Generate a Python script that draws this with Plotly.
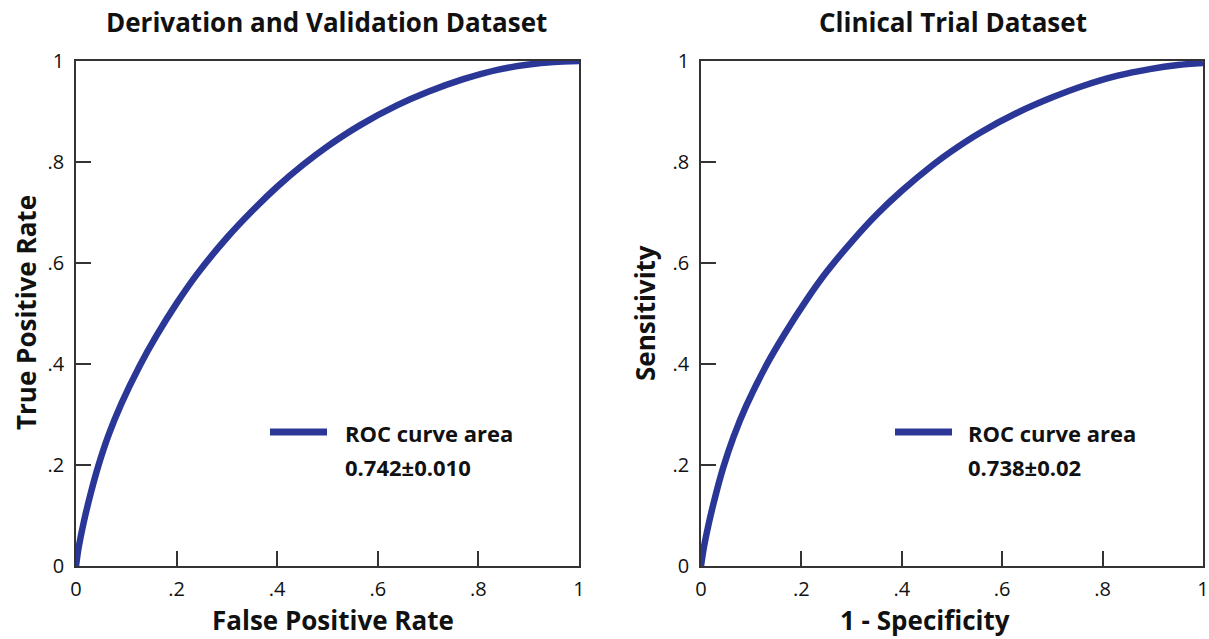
import plotly.graph_objects as go

# ---- data ----
fpr_deriv = [0.0, 0.005, 0.015, 0.028, 0.044, 0.065, 0.09, 0.127, 0.16, 0.2, 0.24, 0.3, 0.35, 0.4,
             0.452, 0.5, 0.565, 0.638, 0.7, 0.77, 0.84, 0.9, 0.95, 1.0]
tpr_deriv = [0.0, 0.035, 0.085, 0.139, 0.197, 0.26, 0.321, 0.397, 0.456, 0.52, 0.577, 0.65, 0.703, 0.751,
             0.795, 0.831, 0.873, 0.912, 0.939, 0.964, 0.983, 0.993, 0.998, 1.0]

fpr_trial = [0.0, 0.005, 0.015, 0.028, 0.044, 0.065, 0.09, 0.131, 0.165, 0.211, 0.25, 0.3, 0.35, 0.4,
             0.463, 0.5, 0.556, 0.629, 0.7, 0.762, 0.83, 0.894, 0.95, 1.0]
tpr_trial = [0.0, 0.033, 0.082, 0.136, 0.194, 0.256, 0.317, 0.399, 0.457, 0.528, 0.582, 0.642, 0.696, 0.743,
             0.795, 0.822, 0.858, 0.897, 0.928, 0.951, 0.971, 0.984, 0.992, 0.996]

panel_titles = ["Derivation and Validation Dataset", "Clinical Trial Dataset"]
x_titles = ["False Positive Rate", "1 - Specificity"]
y_titles = ["True Positive Rate", "Sensitivity"]
legend_label = "ROC curve area"
auc_labels = ["0.742\u00b10.010", "0.738\u00b10.02"]
tick_vals = [0, 0.2, 0.4, 0.6, 0.8, 1]
tick_text = ["0", ".2", ".4", ".6", ".8", "1"]

W, H = 1209, 639
FONT = "Open Sans"
CURVE = "#2B3796"
AXC = "#333333"

def px_x(p):
    return p / W

def px_y(p):
    return 1 - p / H

dom_y = [px_y(566), px_y(61)]
dom_x1 = [px_x(76), px_x(579)]
dom_x2 = [px_x(701), px_x(1203)]

fig = go.Figure()
fig.add_trace(go.Scatter(x=fpr_deriv, y=tpr_deriv, mode="lines",
                         line=dict(color=CURVE, width=6.5, shape="spline", smoothing=0.8),
                         xaxis="x", yaxis="y", showlegend=False, hoverinfo="skip"))
fig.add_trace(go.Scatter(x=fpr_trial, y=tpr_trial, mode="lines",
                         line=dict(color=CURVE, width=6.5, shape="spline", smoothing=0.8),
                         xaxis="x2", yaxis="y2", showlegend=False, hoverinfo="skip"))

axis_common = dict(range=[0, 1], tickvals=tick_vals, ticktext=tick_text, ticks="inside", ticklen=15,
                   tickwidth=1.5, tickcolor=AXC, showline=True, linecolor=AXC, linewidth=1.5, mirror=True,
                   showgrid=False, zeroline=False, automargin=False, ticklabeloverflow="allow",
                   tickfont=dict(family=FONT, size=20, color="#111"), fixedrange=True)

fig.update_layout(
    template="none",
    width=W, height=H, autosize=False,
    margin=dict(l=0, r=0, t=0, b=0, pad=0),
    paper_bgcolor="white", plot_bgcolor="white",
    showlegend=False,
    xaxis=dict(domain=dom_x1, anchor="y", ticklabelstandoff=4, **axis_common),
    yaxis=dict(domain=dom_y, anchor="x", ticklabelstandoff=6, **axis_common),
    xaxis2=dict(domain=dom_x2, anchor="y2", ticklabelstandoff=4, **axis_common),
    yaxis2=dict(domain=dom_y, anchor="x2", ticklabelstandoff=6, **axis_common),
)

ann = []
title_font = dict(family=FONT, size=26, color="#111")
axt_font = dict(family=FONT, size=26, color="#111")
leg_font = dict(family=FONT, size=22, color="#111")

for t, cx in zip(panel_titles, [326, 953]):
    ann.append(dict(text="<b>%s</b>" % t, x=px_x(cx), y=px_y(22), xref="paper", yref="paper",
                    xanchor="center", yanchor="middle", showarrow=False, font=title_font))
for t, cx in zip(x_titles, [333, 925]):
    ann.append(dict(text="<b>%s</b>" % t, x=px_x(cx), y=0, xref="paper", yref="paper",
                    xanchor="center", yanchor="bottom", showarrow=False, borderpad=0, font=axt_font))
for t, cx in zip(y_titles, [26, 645]):
    ann.append(dict(text="<b>%s</b>" % t, x=px_x(cx), y=px_y(313), xref="paper", yref="paper",
                    xanchor="center", yanchor="middle", showarrow=False, textangle=-90, font=axt_font))

shapes = []
for (lx0, lx1, tx), lab in zip([(270, 327, 343), (895, 952, 966)], auc_labels):
    shapes.append(dict(type="line", xref="paper", yref="paper", x0=px_x(lx0), x1=px_x(lx1),
                       y0=px_y(432), y1=px_y(432), line=dict(color=CURVE, width=7)))
    ann.append(dict(text="<b>%s</b>" % legend_label, x=px_x(tx), y=px_y(433), xref="paper", yref="paper",
                    xanchor="left", yanchor="middle", showarrow=False, font=leg_font))
    ann.append(dict(text="<b>%s</b>" % lab, x=px_x(tx), y=px_y(467), xref="paper", yref="paper",
                    xanchor="left", yanchor="middle", showarrow=False, font=leg_font))

fig.update_layout(annotations=ann, shapes=shapes)
fig.write_html("out.html", config={"displayModeBar": False},
               post_script="document.body.style.margin='0px';document.body.style.overflow='hidden';")
